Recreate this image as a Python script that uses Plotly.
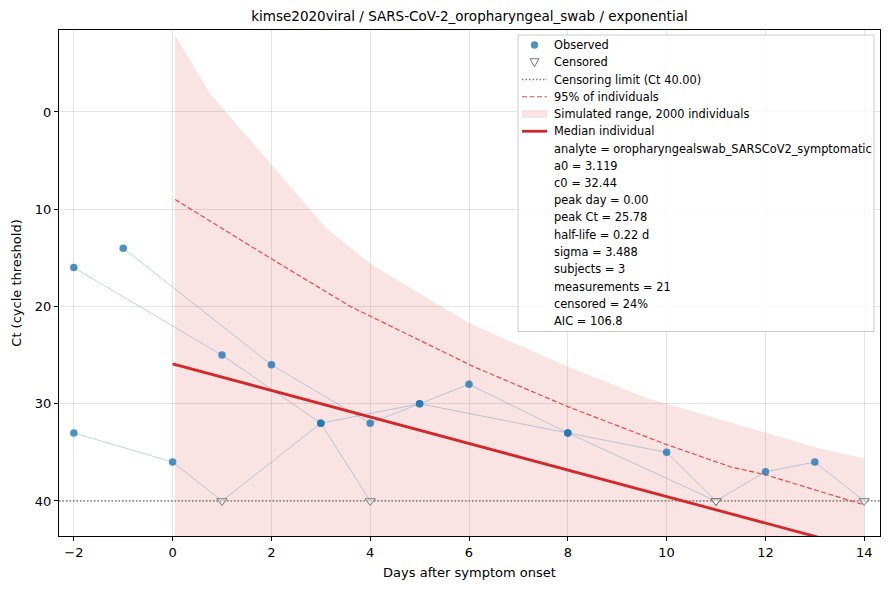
import plotly.graph_objects as go

# ---------------------------------------------------------------------------
# data
# ---------------------------------------------------------------------------
TITLE = "kimse2020viral / SARS-CoV-2_oropharyngeal_swab / exponential"
CENSOR_LIMIT = 40.0

# one list of (day, Ct) per subject; censored flags mark values at the limit
subj1_days = [-2, 1, 3, 4]
subj1_ct = [16, 25, 32, 40]
subj1_cens = [0, 0, 0, 1]

subj2_days = [-2, 0, 1, 3, 5, 8, 10, 11, 12, 13, 14]
subj2_ct = [33, 36, 40, 32, 30, 33, 35, 40, 37, 36, 40]
subj2_cens = [0, 0, 1, 0, 0, 0, 0, 1, 0, 0, 1]

subj3_days = [-1, 2, 4, 5, 6, 8, 11]
subj3_ct = [14, 26, 32, 30, 28, 33, 40]
subj3_cens = [0, 0, 0, 0, 0, 0, 1]

# simulated envelope (2000 individuals)
sim_days = [0.05, 0.77, 3.12, 4.0, 6.0, 8.0, 9.6, 12.0, 13.1, 14.0]
sim_upper = [-7.9, -1.8, 12.0, 15.6, 21.7, 26.2, 29.4, 33.0, 34.6, 35.6]
sim_lower = [50.0, 50.0, 50.0, 50.0, 50.0, 50.0, 50.0, 50.0, 50.0, 50.0]

# 95% of individuals
p95_days = [0.05, 2.0, 3.6, 4.9, 6.1, 8.0, 10.0, 11.3, 12.0, 14.0]
p95_ct = [9.0, 15.1, 20.0, 23.2, 26.2, 30.3, 34.2, 36.5, 37.3, 40.4]

# median individual
med_days = [0.0, 14.0]
med_ct = [25.9, 45.0]

legend_labels = [
    "Observed",
    "Censored",
    "Censoring limit (Ct 40.00)",
    "95% of individuals",
    "Simulated range, 2000 individuals",
    "Median individual",
]
info_lines = [
    "analyte = oropharyngealswab_SARSCoV2_symptomatic",
    "a0 = 3.119",
    "c0 = 32.44",
    "peak day = 0.00",
    "peak Ct = 25.78",
    "half-life = 0.22 d",
    "sigma = 3.488",
    "subjects = 3",
    "measurements = 21",
    "censored = 24%",
    "AIC = 106.8",
]

x_range = [-2.3, 14.32]
y_range = [43.6, -8.43]

# colours / styles
BLUE_PT = "rgba(31,119,180,0.8)"
BLUE_LN = "rgba(31,119,180,0.3)"
RED = "#d62728"
RED_DASH = "rgba(226,60,60,0.9)"
BAND = "rgba(214,39,40,0.13)"
GREY = "rgb(128,128,128)"
DASH = "5px,2.5px"
DOT = "1.5px,2px"

subjects = [
    (subj1_days, subj1_ct, subj1_cens),
    (subj2_days, subj2_ct, subj2_cens),
    (subj3_days, subj3_ct, subj3_cens),
]

fig = go.Figure()

# simulated range band
fig.add_trace(go.Scatter(
    x=sim_days + sim_days[::-1],
    y=sim_upper + sim_lower[::-1],
    fill="toself", fillcolor=BAND,
    line=dict(width=0), mode="lines", hoverinfo="skip"))

# censoring limit
fig.add_trace(go.Scatter(
    x=x_range, y=[CENSOR_LIMIT, CENSOR_LIMIT], mode="lines",
    line=dict(color=GREY, width=1.3, dash=DOT)))

# subject trajectories
for d, c, _ in subjects:
    fig.add_trace(go.Scatter(
        x=d, y=c, mode="lines",
        line=dict(color=BLUE_LN, width=1)))

# 95% of individuals
fig.add_trace(go.Scatter(
    x=p95_days, y=p95_ct, mode="lines",
    line=dict(color=RED_DASH, width=1.2, dash=DASH)))

# median individual
fig.add_trace(go.Scatter(
    x=med_days, y=med_ct, mode="lines",
    line=dict(color=RED, width=2.8)))

# observed and censored points
obs_x, obs_y, cen_x, cen_y = [], [], [], []
for d, c, cens in subjects:
    for xi, yi, fl in zip(d, c, cens):
        if fl:
            cen_x.append(xi)
            cen_y.append(yi)
        else:
            obs_x.append(xi)
            obs_y.append(yi)

fig.add_trace(go.Scatter(
    x=obs_x, y=obs_y, mode="markers",
    marker=dict(color=BLUE_PT, size=7.5, line=dict(width=0))))
fig.add_trace(go.Scatter(
    x=cen_x, y=cen_y, mode="markers",
    marker=dict(symbol="triangle-down", size=9, color="rgba(255,255,255,0.4)",
                line=dict(color="rgb(120,120,120)", width=1))))

# ---------------------------------------------------------------------------
# legend drawn by hand so the row spacing matches (plotly's legend rows
# can't be packed this tight)
# ---------------------------------------------------------------------------
L, R, T, B = 59, 10, 30, 54
W, H = 890, 590
PW, PH = W - L - R, H - T - B


def px(x):
    return (x - L) / PW


def py(y):
    return (H - B - y) / PH


box_l, box_t, box_r = 518, 35, 874
row0, row_h = 45, 17.25
n_rows = len(legend_labels) + len(info_lines)
box_b = row0 + row_h * (n_rows - 1) + 10.5
sym_l, sym_r, sym_c, text_x = 522, 547, 534.5, 552

shapes = [dict(type="rect", xref="paper", yref="paper",
               x0=px(box_l), x1=px(box_r), y0=py(box_b), y1=py(box_t),
               fillcolor="rgba(255,255,255,0.8)",
               line=dict(color="rgb(204,204,204)", width=1))]


def row_y(i):
    return row0 + row_h * i


# Observed
y0 = row_y(0)
shapes.append(dict(type="circle", xref="paper", yref="paper",
                   x0=px(sym_c - 3.7), x1=px(sym_c + 3.7),
                   y0=py(y0 + 3.7), y1=py(y0 - 3.7),
                   fillcolor=BLUE_PT, line=dict(width=0)))
# Censored
y0 = row_y(1)
shapes.append(dict(type="path", xref="paper", yref="paper",
                   path="M {:.5f},{:.5f} L {:.5f},{:.5f} L {:.5f},{:.5f} Z".format(
                       px(sym_c - 4.5), py(y0 - 3.5), px(sym_c + 4.5), py(y0 - 3.5),
                       px(sym_c), py(y0 + 4.5)),
                   fillcolor="rgba(255,255,255,0.4)",
                   line=dict(color="rgb(120,120,120)", width=1)))
# Censoring limit
y0 = row_y(2)
shapes.append(dict(type="line", xref="paper", yref="paper",
                   x0=px(sym_l), x1=px(sym_r), y0=py(y0), y1=py(y0),
                   line=dict(color=GREY, width=1.3, dash=DOT)))
# 95%
y0 = row_y(3)
shapes.append(dict(type="line", xref="paper", yref="paper",
                   x0=px(sym_l), x1=px(sym_r), y0=py(y0), y1=py(y0),
                   line=dict(color=RED_DASH, width=1.2, dash=DASH)))
# band
y0 = row_y(4)
shapes.append(dict(type="rect", xref="paper", yref="paper",
                   x0=px(sym_l), x1=px(sym_r), y0=py(y0 + 4), y1=py(y0 - 4),
                   fillcolor=BAND, line=dict(width=0)))
# median
y0 = row_y(5)
shapes.append(dict(type="line", xref="paper", yref="paper",
                   x0=px(sym_l), x1=px(sym_r), y0=py(y0), y1=py(y0),
                   line=dict(color=RED, width=2.8)))

annotations = []
for i, txt in enumerate(legend_labels + info_lines):
    annotations.append(dict(
        text=txt, xref="paper", yref="paper", x=px(text_x), y=py(row_y(i)),
        xanchor="left", yanchor="middle", showarrow=False,
        font=dict(size=11.4, color="black")))

axis_common = dict(
    showline=True, linecolor="black", linewidth=1, mirror=True,
    ticks="outside", ticklen=4, tickcolor="black",
    showgrid=True, gridcolor="rgba(0,0,0,0.1)", gridwidth=1,
    zeroline=False, tickfont=dict(size=13, color="black"),
)

fig.update_layout(
    width=W, height=H,
    margin=dict(l=L, r=R, t=T, b=B),
    paper_bgcolor="white", plot_bgcolor="white",
    font=dict(family="DejaVu Sans", color="black"),
    showlegend=False,
    title=dict(text=TITLE, xref="paper", x=0.5, xanchor="center",
               y=1 - 16 / H, yanchor="middle", font=dict(size=13.5)),
    xaxis=dict(range=x_range, tickvals=[-2, 0, 2, 4, 6, 8, 10, 12, 14],
               title=dict(text="Days after symptom onset", font=dict(size=13),
                          standoff=9),
               **axis_common),
    yaxis=dict(range=y_range, tickvals=[0, 10, 20, 30, 40],
               title=dict(text="Ct (cycle threshold)", font=dict(size=13),
                          standoff=10),
               **axis_common),
    shapes=shapes,
    annotations=annotations,
)

fig.write_html("out.html", config={"displayModeBar": False},
               post_script="document.body.style.margin='0';")
